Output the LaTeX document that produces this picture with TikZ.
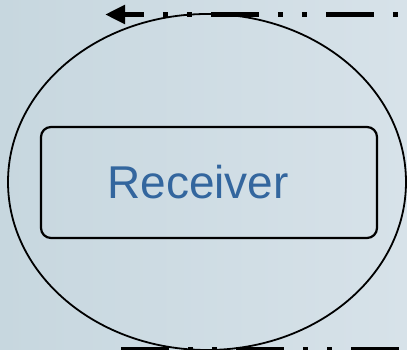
\documentclass[tikz,border=0pt]{standalone}
\usepackage{fontspec}
\setmainfont{Liberation Sans}
\usepackage{tikz}
\usetikzlibrary{arrows.meta, positioning, shapes.geometric}
\definecolor{BgLeft}{RGB}{199,215,223}
\definecolor{BgRight}{RGB}{215,226,233}
\definecolor{SteelText}{RGB}{51,102,158}
\definecolor{Ink}{HTML}{000000}

\begin{document}
\begin{tikzpicture}[
  x=1pt, y=-1pt,
  zone/.style={draw=Ink, line width=1.8pt, ellipse, minimum width=398pt, minimum height=336pt, inner sep=0pt},
  box/.style={draw=Ink, line width=2.2pt, rounded corners=10pt, minimum width=336pt, minimum height=111pt, inner sep=0pt},
  lbl/.style={font=\fontsize{46}{55}\selectfont, text=SteelText, inner sep=0pt},
  flow/.style={line width=5.5pt, color=Ink, dash pattern=on 48pt off 19pt on 5pt off 19pt on 5pt off 19pt}
]
\useasboundingbox (0,0) rectangle (407,350);
\clip (0,0) rectangle (407,350);
\shade[left color=BgLeft, right color=BgRight] (0,0) rectangle (407,350);

\node[zone] (sphere) at (207,182) {};
\node[box] (recv) at (209,182.5) {};
\node[lbl, xshift=-11pt] (recvtext) at (recv.center) {Receiver};

\coordinate (inL) at (105,14.5);
\coordinate (inR) at (430,14.5);
\coordinate (outL) at (121,349.5);
\coordinate (outR) at (430,349.5);

\draw[flow, dash phase=28pt, {Triangle[length=20pt, width=18pt]}-] (inL) -- (inR);
\draw[flow] (outL) -- (outR);
\end{tikzpicture}
\end{document}
